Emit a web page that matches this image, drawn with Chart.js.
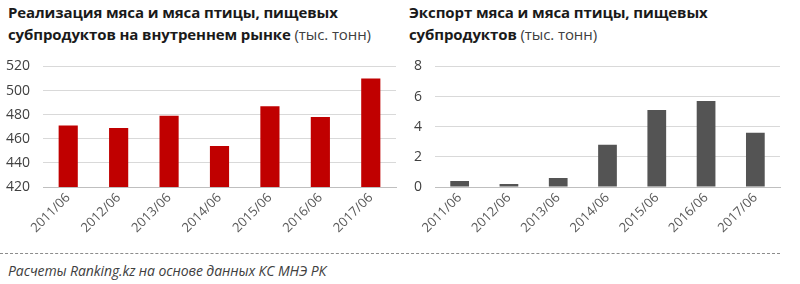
<!DOCTYPE html>
<html>
<head>
<meta charset="utf-8">
<script src="https://cdn.jsdelivr.net/npm/chart.js@4.4.1/dist/chart.umd.min.js"></script>
<style>
body { margin: 0; width: 800px; height: 284px; background: #fff; position: relative; overflow: hidden; font-family: "Open Sans", sans-serif; }
.title { position: absolute; top: 1px; font-size: 15px; line-height: 22px; font-weight: bold; color: #1a1a1a; letter-spacing: -0.1px; }
.title span { font-weight: normal; color: #404040; }
.box { position: absolute; top: 45px; width: 400px; height: 205px; }
.rule { position: absolute; left: 0; top: 253px; width: 780px; border-top: 1px dashed #8c8c8c; }
.note { position: absolute; left: 8px; top: 261px; font-size: 14px; font-style: italic; color: #404040; letter-spacing: -0.1px; }
</style>
</head>
<body>
<div class="title" style="left:8px">Реализация мяса и мяса птицы, пищевых<br>субпродуктов на внутреннем рынке <span>(тыс. тонн)</span></div>
<div class="title" style="left:409px">Экспорт мяса и мяса птицы, пищевых<br>субпродуктов <span>(тыс. тонн)</span></div>
<div class="box" style="left:0"><canvas id="salesChart"></canvas></div>
<div class="box" style="left:400px"><canvas id="exportChart"></canvas></div>
<div class="rule"></div>
<div class="note">Расчеты Ranking.kz на основе данных КС МНЭ РК</div>
<script>
// data
var periods = ["2011/06", "2012/06", "2013/06", "2014/06", "2015/06", "2016/06", "2017/06"];
var salesValues = [471, 469, 479, 454, 487, 478, 510];
var exportValues = [0.4, 0.2, 0.6, 2.8, 5.1, 5.7, 3.6];

Chart.defaults.font.family = "'Open Sans', sans-serif";
Chart.defaults.animation = false;

function makeChart(id, values, color, yMin, yMax, yStep, axisWidth, rightPad) {
    var ctx = document.getElementById(id).getContext('2d');
    return new Chart(ctx, {
        type: 'bar',
        data: {
            labels: periods,
            datasets: [{
                data: values,
                backgroundColor: color,
                barPercentage: 0.38,
                categoryPercentage: 1
            }]
        },
        options: {
            responsive: true,
            maintainAspectRatio: false,
            layout: { padding: { top: 2, right: rightPad, left: 0, bottom: 0 } },
            plugins: { legend: { display: false }, tooltip: { enabled: false } },
            scales: {
                x: {
                    grid: { display: false, drawTicks: false },
                    border: { color: '#bfbfbf', width: 1 },
                    ticks: { color: '#595959', font: { size: 13 }, maxRotation: 45, minRotation: 45, padding: 3 },
                    afterFit: function (scale) { scale.height = 63; }
                },
                y: {
                    min: yMin,
                    max: yMax,
                    grid: { color: '#d9d9d9', drawTicks: false },
                    border: { display: false },
                    ticks: { stepSize: yStep, color: '#404040', font: { size: 14 }, padding: 13 },
                    afterFit: function (scale) { scale.width = axisWidth; }
                }
            }
        }
    });
}

var salesChart = makeChart('salesChart', salesValues, '#c00000', 420, 520, 20, 43, 4);
var exportChart = makeChart('exportChart', exportValues, '#545454', 0, 8, 2, 35, 20);
</script>
</body>
</html>
